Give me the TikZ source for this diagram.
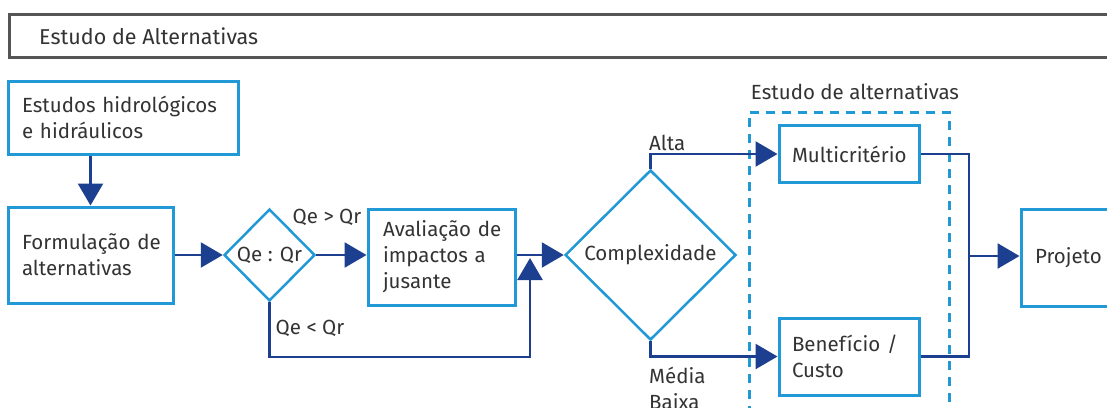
\documentclass[tikz,border=0pt]{standalone}
\usepackage{fontspec}
\setmainfont{Fira Sans}
\usetikzlibrary{shapes.geometric,arrows.meta}
\definecolor{boxblue}{HTML}{2199D6}
\definecolor{navy}{HTML}{1D3F8F}
\definecolor{txt}{HTML}{333333}
\definecolor{hdr}{HTML}{555555}
\begin{document}
\begin{tikzpicture}[x=1pt,y=-1pt,
  every node/.style={font=\fontsize{20.5}{26}\selectfont, text=txt},
  pbox/.style={draw=boxblue, line width=3pt, align=left, inner xsep=14pt, inner ysep=0pt, fill=white},
  dbox/.style={diamond, draw=boxblue, line width=2.5pt, inner sep=0pt, fill=white},
  arr/.style={draw=navy, line width=2.5pt, -{Triangle[length=22pt,width=25pt]}},
  ln/.style={draw=navy, line width=2.5pt},
  lbl/.style={inner sep=0pt}]
\useasboundingbox (0,0) rectangle (1107,407);
% header
\node[draw=hdr, line width=3pt, minimum width=1112pt, minimum height=43pt, anchor=north west, inner sep=0pt] (hdr) at (8,13) {};
\node[lbl, anchor=west, font=\fontsize{21.5}{26}\selectfont] (hdrtext) at (39,36) {Estudo de Alternativas};
% dashed group
\node[draw=boxblue, line width=2.5pt, dash pattern=on 9pt off 7pt, minimum width=200pt, minimum height=330pt, anchor=north west, inner sep=0pt] (alt) at (748,111) {};
\node[lbl] (altlbl) at (855,92) {Estudo de alternativas};
% boxes
\node[pbox, text width=202pt, minimum height=73pt] (est) at (123,117.5) {Estudos~hidrológicos\\e~hidráulicos};
\node[pbox, text width=137pt, minimum height=96pt] (form) at (90.5,255) {Formulação~de\\alternativas};
\node[dbox, minimum width=91pt, minimum height=92pt] (qq) at (269.5,255) {Qe : Qr};
\node[pbox, inner xsep=15pt, text width=117pt, minimum height=96pt] (aval) at (441.5,257) {Avaliação~de\\impactos~a\\jusante};
\node[dbox, minimum width=171pt, minimum height=170pt] (comp) at (650.5,255) {Complexidade};
\node[pbox, inner xsep=13pt, text width=114pt, minimum height=57pt] (multi) at (849,154) {Multicritério};
\node[pbox, inner xsep=13pt, text width=114pt, minimum height=77pt] (ben) at (849,356.5) {Benefício~/\\Custo};
\node[pbox, text width=111pt, minimum height=97pt] (proj) at (1090.5,257.5) {Projeto};
% labels
\node[lbl] (lgt) at (327,217) {Qe > Qr};
\node[lbl] (llt) at (310,328) {Qe < Qr};
\node[lbl, anchor=west] (alta) at (649,143) {Alta};
\node[lbl, anchor=north west, align=left] (mb) at (649,367) {Média\\Baixa};
% coordinates
\coordinate (lowc) at (530,357);
\coordinate (jn) at (530,258);
\coordinate (rj) at (969,256);
% connectors
\draw[arr] (est.south -| form.north) -- (form.north);
\draw[arr] (form.east) -- (qq.west);
\draw[arr] (qq.east) -- (qq.east -| aval.west);
\draw[arr] (aval.east |- comp.west) -- (comp.west);
\draw[arr] (qq.south) |- (lowc) -- (jn);
\draw[arr] (comp.north) |- (multi.west);
\draw[arr] (comp.south) |- (ben.west);
\draw[ln] (multi.east) -| (rj);
\draw[ln] (ben.east) -| (rj);
\draw[arr] (rj) -- (rj -| proj.west);
\end{tikzpicture}
\end{document}
